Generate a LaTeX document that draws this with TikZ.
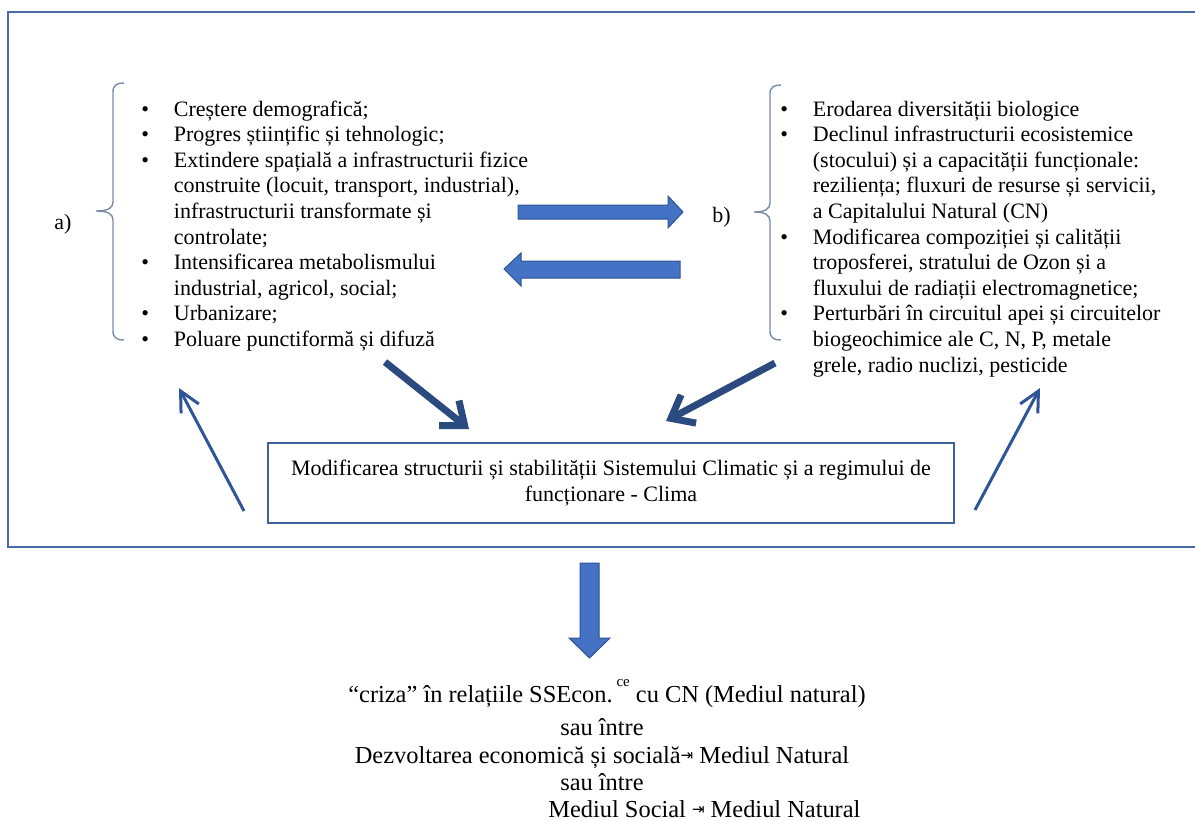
\documentclass[tikz,border=0pt]{standalone}
\usepackage{fontspec}
\setmainfont{Liberation Serif}
\newfontfamily\symfont{DejaVu Sans}
\usetikzlibrary{arrows.meta}

\definecolor{framecol}{HTML}{4A6AA5}
\definecolor{boxcol}{HTML}{41619C}
\definecolor{blockfill}{HTML}{4472C4}
\definecolor{blockline}{HTML}{2F528F}
\definecolor{thickcol}{HTML}{2B4A80}
\definecolor{thincol}{HTML}{2F5597}
\definecolor{bracecol}{HTML}{7A8BA8}

% bullet and continuation indent for the two lists
\newcommand{\itm}{\makebox[16.25pt][l]{\textbullet}}
\newcommand{\cont}{\hspace*{16.25pt}}
% small "arrow to bar" sign
\newcommand{\tobar}{\raisebox{0.2ex}{\symfont\fontsize{7.5}{7.5}\selectfont ⇥}}

\tikzset{
  listtxt/.style={inner sep=0pt, font=\fontsize{11}{12.8}\selectfont},
  lbl/.style={inner sep=0pt, font=\fontsize{11}{12.8}\selectfont},
  bottomtxt/.style={inner sep=0pt, font=\fontsize{12.2}{13.8}\selectfont},
  brace/.style={bracecol, line width=0.7pt},
  blockarrow/.style={fill=blockfill, draw=blockline, line width=0.5pt, line join=miter},
  thickarrow/.style={thickcol, line width=3.5pt, -{Straight Barb[length=10pt,width=16pt]}},
  thinarrow/.style={thincol, line width=1.5pt, -{Straight Barb[length=10pt,width=10pt]}},
  climabox/.style={draw=boxcol, line width=1pt, minimum width=343pt, minimum height=40pt,
    align=center, font=\fontsize{11}{13}\selectfont, inner sep=0pt}
}

\begin{document}
\begin{tikzpicture}[x=0.5pt,y=-0.5pt]
\useasboundingbox (0,0) rectangle (1195,820);

% outer frame, open on the right
\draw[framecol, line width=1.25pt] (1195,12) -- (8,12) -- (8,547) -- (1195,547);

% left group: causes
\node[lbl, anchor=base west] (labA) at (54,229) {a)};
\draw[brace] (124,83) .. controls (117,83) and (113,85) .. (113,92) -- (113,202)
  .. controls (113,208) and (108,211) .. (96,211)
  .. controls (108,211) and (113,214) .. (113,220) -- (113,331)
  .. controls (113,338) and (117,340) .. (124,340);
\node[listtxt, anchor=base west] (listA) at (141,116) {\begin{tabular}[t]{@{}l@{}}
\itm Creștere demografică;\\
\itm Progres științific și tehnologic;\\
\itm Extindere spațială a infrastructurii fizice\\
\cont construite (locuit, transport, industrial),\\
\cont infrastructurii transformate și\\
\cont controlate;\\
\itm Intensificarea metabolismului\\
\cont industrial, agricol, social;\\
\itm Urbanizare;\\
\itm Poluare punctiformă și difuză
\end{tabular}};

% right group: effects
\node[lbl, anchor=base west] (labB) at (712,222) {b)};
\draw[brace] (781,85) .. controls (774,85) and (770,87) .. (770,94) -- (770,203)
  .. controls (770,209) and (765,212) .. (754,212)
  .. controls (765,212) and (770,215) .. (770,221) -- (770,331)
  .. controls (770,338) and (774,340) .. (781,340);
\node[listtxt, anchor=base west] (listB) at (780,116) {\begin{tabular}[t]{@{}l@{}}
\itm Erodarea diversității biologice\\
\itm Declinul infrastructurii ecosistemice\\
\cont (stocului) și a capacității funcționale:\\
\cont reziliența; fluxuri de resurse și servicii,\\
\cont a Capitalului Natural (CN)\\
\itm Modificarea compoziției și calității\\
\cont troposferei, stratului de Ozon și a\\
\cont fluxului de radiații electromagnetice;\\
\itm Perturbări în circuitul apei și circuitelor\\
\cont biogeochimice ale C, N, P, metale\\
\cont grele, radio nuclizi, pesticide
\end{tabular}};

% two-way block arrows between the groups
\draw[blockarrow] (518,205) -- (668,205) -- (668,196) -- (683,212) -- (668,228)
  -- (668,219) -- (518,219) -- cycle;
\draw[blockarrow] (680,261) -- (521,261) -- (521,253) -- (504,269) -- (521,286)
  -- (521,278) -- (680,278) -- cycle;

% climate system box
\node[climabox] (clima) at (611,483)
  {Modificarea structurii și stabilității Sistemului Climatic și a regimului de\\
   funcționare - Clima};

% arrows into and out of the climate box
\coordinate (inA0) at (385,362);
\coordinate (inA1) at (469,429);
\coordinate (inB0) at (775,363);
\coordinate (inB1) at (666,421);
\coordinate (outA0) at (244,511);
\coordinate (outA1) at (179,388);
\coordinate (outB0) at (975,510);
\coordinate (outB1) at (1040,388);
\draw[thickarrow] (inA0) -- (inA1);
\draw[thickarrow] (inB0) -- (inB1);
\draw[thinarrow] (outA0) -- (outA1);
\draw[thinarrow] (outB0) -- (outB1);

% downward block arrow
\draw[blockarrow] (580,563) -- (599,563) -- (599,638) -- (610,638) -- (589.5,658)
  -- (569,638) -- (580,638) -- cycle;

% conclusion
\node[bottomtxt, anchor=base] (crisis) at (607,702)
  {“criza” în relațiile SSEcon.\hspace{2pt}\raisebox{8pt}{\fontsize{7.5}{7.5}\selectfont ce} cu CN (Mediul natural)};
\node[bottomtxt, anchor=base] (orA) at (602,735) {sau între};
\node[bottomtxt, anchor=base] (devel) at (602,763)
  {Dezvoltarea economică și socială\tobar{} Mediul Natural};
\node[bottomtxt, anchor=base] (orB) at (602,790) {sau între};
\node[bottomtxt, anchor=base west] (social) at (548,817)
  {Mediul Social \tobar{} Mediul Natural};
\end{tikzpicture}
\end{document}
